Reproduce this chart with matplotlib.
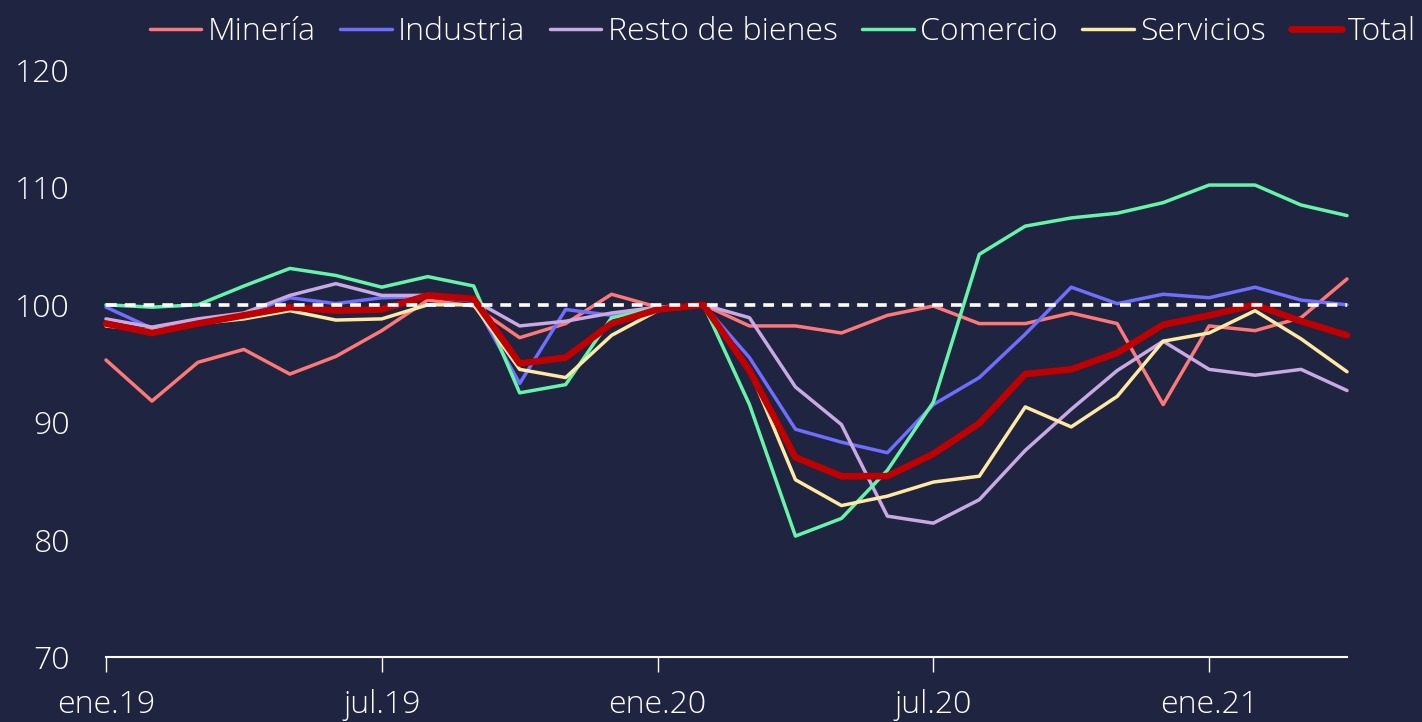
import matplotlib
matplotlib.use("Agg")
import matplotlib.pyplot as plt

months = ["ene.19", "feb.19", "mar.19", "abr.19", "may.19", "jun.19", "jul.19", "ago.19",
          "sep.19", "oct.19", "nov.19", "dic.19", "ene.20", "feb.20", "mar.20", "abr.20",
          "may.20", "jun.20", "jul.20", "ago.20", "sep.20", "oct.20", "nov.20", "dic.20",
          "ene.21", "feb.21", "mar.21", "abr.21"]

mineria = [95.3, 91.8, 95.1, 96.2, 94.1, 95.6, 97.8, 100.4, 99.9, 97.2, 98.4, 100.9, 99.8, 100.0,
           98.2, 98.2, 97.6, 99.1, 99.9, 98.4, 98.4, 99.3, 98.4, 91.5, 98.2, 97.8, 98.9, 102.2]
industria = [99.8, 98.0, 98.7, 99.2, 100.6, 100.1, 100.6, 100.7, 100.3, 93.3, 99.6, 99.1, 99.6, 100.0,
             95.5, 89.4, 88.3, 87.4, 91.5, 93.8, 97.5, 101.5, 100.1, 100.9, 100.6, 101.5, 100.4, 100.0]
resto = [98.8, 98.1, 98.8, 99.3, 100.8, 101.8, 100.8, 100.8, 100.4, 98.2, 98.6, 99.3, 99.8, 100.0,
         98.9, 93.0, 89.8, 82.0, 81.4, 83.4, 87.6, 91.1, 94.4, 96.9, 94.5, 94.0, 94.5, 92.7]
comercio = [100.0, 99.8, 100.0, 101.6, 103.1, 102.5, 101.5, 102.4, 101.6, 92.5, 93.2, 98.9, 99.7, 100.0,
            91.5, 80.3, 81.8, 85.9, 91.7, 104.3, 106.7, 107.4, 107.8, 108.7, 110.2, 110.2, 108.5, 107.6]
servicios = [98.2, 97.8, 98.4, 98.8, 99.5, 98.7, 98.8, 100.0, 100.0, 94.5, 93.8, 97.4, 99.5, 100.0,
             94.5, 85.1, 82.9, 83.7, 84.9, 85.4, 91.3, 89.6, 92.2, 96.9, 97.6, 99.5, 97.1, 94.3]
total = [98.4, 97.6, 98.4, 99.1, 99.8, 99.5, 99.6, 100.8, 100.5, 95.0, 95.5, 98.4, 99.6, 100.0,
         94.4, 87.0, 85.4, 85.4, 87.3, 89.9, 94.1, 94.5, 95.9, 98.3, 99.1, 100.0, 98.6, 97.4]

series_names = ["Minería", "Industria", "Resto de bienes", "Comercio", "Servicios", "Total"]
series_values = [mineria, industria, resto, comercio, servicios, total]
colors = ["#FF7878", "#6E6EFF", "#C9A9E3", "#66F5A8", "#FFE9A3", "#C00000"]
widths = [2.5, 2.5, 2.5, 2.5, 2.5, 4.8]

yticks = [70, 80, 90, 100, 110, 120]
xtick_labels = ["ene.19", "jul.19", "ene.20", "jul.20", "ene.21"]

bg = "#1F2440"
plt.rcParams['font.family'] = ['Open Sans', 'DejaVu Sans']

fig = plt.figure(figsize=(14.22, 7.22), dpi=100, facecolor=bg)
ax = fig.add_axes([106/1422, 1 - 657/722, (1347 - 106)/1422, (657 - 70)/722])
ax.set_facecolor(bg)

x = list(range(len(months)))
for name, vals, c, w in zip(series_names, series_values, colors, widths):
    ax.plot(x, vals, color=c, lw=w, label=name, solid_capstyle='round', clip_on=False)

ax.plot([0, len(months) - 1], [100, 100], color="white", lw=2.6, ls=(0, (3, 2.2)), zorder=5)

ax.set_xlim(0, len(months) - 1)
ax.set_ylim(70, 120)
ax.set_yticks(yticks)
ax.set_yticklabels([str(v) for v in yticks])
tick_pos = [months.index(l) for l in xtick_labels]
ax.set_xticks(tick_pos)
ax.set_xticklabels(xtick_labels)

for s in ["top", "right", "left"]:
    ax.spines[s].set_visible(False)
ax.spines["bottom"].set_color("white")
ax.spines["bottom"].set_linewidth(1.5)
ax.tick_params(axis="x", colors="white", length=11, width=1, direction="out", pad=12, labelsize=23)
ax.tick_params(axis="y", colors="white", length=0, pad=26, labelsize=23)
for lab in ax.get_yticklabels() + ax.get_xticklabels():
    lab.set_color("white")
    lab.set_fontweight("light")

axw = (1347 - 106)
leg = ax.legend(loc="upper right", bbox_to_anchor=((1429 - 106) / axw, 1 + 67/587),
                ncol=6, frameon=False, fontsize=23, handlelength=1.6, handletextpad=0.2,
                columnspacing=0.78, borderaxespad=0)
for t in leg.get_texts():
    t.set_color("white")
    t.set_fontweight("light")

fig.savefig("out.png", dpi=100, facecolor=bg)
